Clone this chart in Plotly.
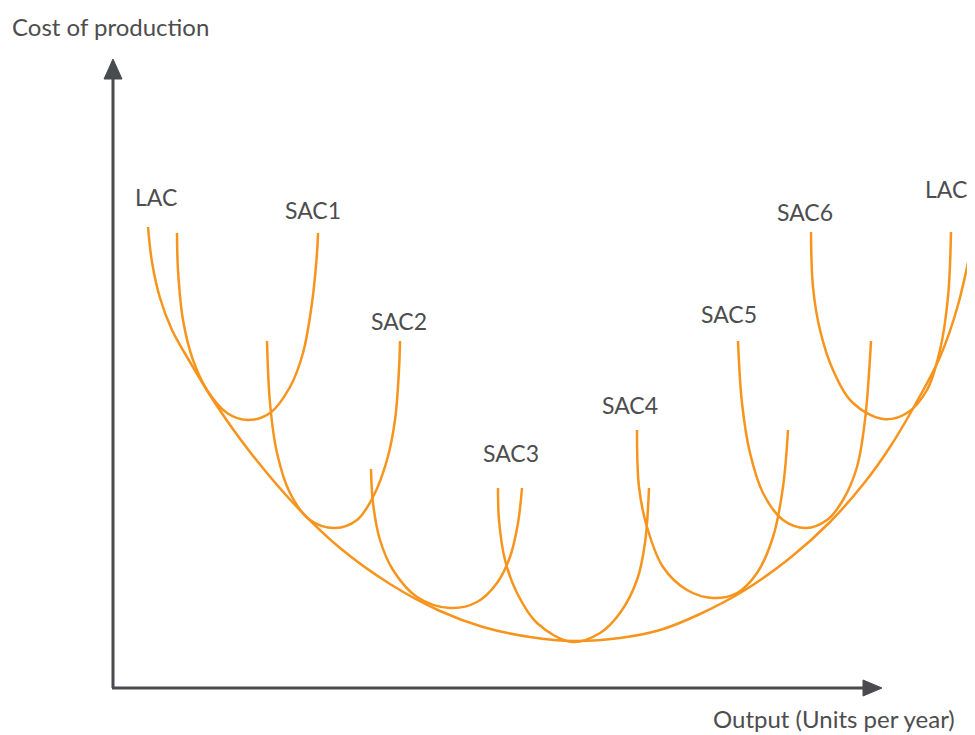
import plotly.graph_objects as go

# ---- data (output on x, cost on y) ----
lac_x = [148, 152, 160, 172, 190, 215, 250, 295, 340, 390, 440, 483, 530, 575,
         620, 660, 700, 745, 790, 830, 865, 890, 915, 940, 958, 975]
lac_y = [508, 473, 437, 405, 373, 332, 283, 230, 187, 151, 124, 108, 98, 94,
         97, 105, 121, 145, 177, 213, 253, 288, 330, 378, 430, 507]

sac1_x = [177, 178, 183, 193, 207, 227, 248, 270, 290, 303, 312, 317, 318]
sac1_y = [502, 465, 415, 375, 345, 322, 315, 322, 348, 382, 432, 482, 502]

sac2_x = [267, 270, 277, 290, 310, 335, 357, 373, 387, 395, 399, 400]
sac2_y = [394, 332, 282, 242, 215, 207, 215, 238, 275, 315, 365, 394]

sac3_x = [371, 373, 380, 393, 417, 450, 477, 497, 510, 518, 522]
sac3_y = [266, 232, 195, 165, 138, 127, 133, 152, 178, 212, 247]

sac4_x = [498, 499, 505, 517, 537, 572, 600, 620, 637, 645, 649]
sac4_y = [247, 215, 175, 142, 112, 93, 102, 122, 155, 192, 247]

sac5_x = [637, 639, 647, 663, 687, 713, 737, 757, 773, 783, 788]
sac5_y = [305, 248, 208, 168, 145, 137, 142, 162, 198, 248, 305]

sac6_x = [738, 742, 750, 763, 783, 806, 827, 843, 857, 865, 871]
sac6_y = [394, 332, 282, 242, 215, 207, 215, 235, 268, 315, 394]

sac7_x = [811, 813, 820, 833, 853, 883, 907, 927, 940, 948, 951]
sac7_y = [503, 448, 405, 365, 332, 316, 322, 345, 385, 438, 503]

label_text = ["LAC", "SAC1", "SAC2", "SAC3", "SAC4", "SAC5", "SAC6", "LAC"]
label_x = [156, 313, 399, 511, 630, 729, 805, 946]
label_y = [538, 525, 414, 282, 330, 421, 523, 546]

y_title = "Cost of production"
x_title = "Output (Units per year)"

ORANGE = "#F7941D"
AXIS = "#4A4B50"
TEXT = "#4D4D4F"
FONT = "Lato, 'Open Sans', sans-serif"

fig = go.Figure()
curves = [(lac_x, lac_y), (sac1_x, sac1_y), (sac2_x, sac2_y), (sac3_x, sac3_y),
          (sac4_x, sac4_y), (sac5_x, sac5_y), (sac6_x, sac6_y), (sac7_x, sac7_y)]
for cx, cy in curves:
    fig.add_trace(go.Scatter(x=cx, y=cy, mode="lines",
                             line=dict(color=ORANGE, width=2.5, shape="spline", smoothing=1.0),
                             hoverinfo="skip", showlegend=False))

# axes with arrows
shapes = [
    dict(type="line", x0=113, y0=47, x1=113, y1=665, line=dict(color=AXIS, width=3)),
    dict(type="line", x0=112, y0=47, x1=866, y1=47, line=dict(color=AXIS, width=3)),
    dict(type="path", path="M 104 656 L 122 656 L 113 676 Z", fillcolor=AXIS, line=dict(color=AXIS, width=1)),
    dict(type="path", path="M 863 55 L 863 39 L 882 47 Z", fillcolor=AXIS, line=dict(color=AXIS, width=1)),
]

annotations = []
for t, x, y in zip(label_text, label_x, label_y):
    annotations.append(dict(x=x, y=y, text=t, showarrow=False, xanchor="center", yanchor="middle",
                            font=dict(family=FONT, size=23, color=TEXT)))
annotations.append(dict(x=10, y=709, text=y_title, showarrow=False, xanchor="left", yanchor="middle",
                        font=dict(family=FONT, size=24, color=TEXT)))
annotations.append(dict(x=957, y=17, text=x_title, showarrow=False, xanchor="right", yanchor="middle",
                        font=dict(family=FONT, size=24, color=TEXT)))

fig.update_layout(
    width=975, height=735,
    margin=dict(l=0, r=0, t=0, b=0),
    paper_bgcolor="white", plot_bgcolor="white",
    xaxis=dict(range=[8, 983], visible=False, fixedrange=True),
    yaxis=dict(range=[-8, 727], visible=False, fixedrange=True),
    shapes=shapes, annotations=annotations,
    showlegend=False,
)

fig.write_html("out.html")
